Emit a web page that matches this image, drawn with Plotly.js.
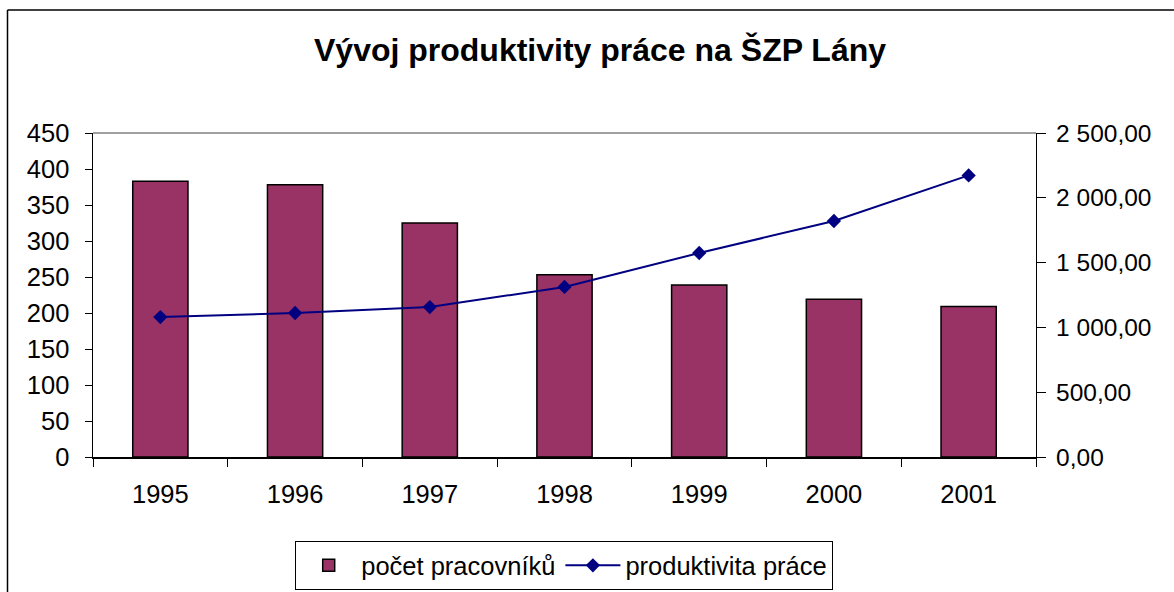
<!DOCTYPE html>
<html>
<head>
<meta charset="utf-8">
<script src="https://cdn.plot.ly/plotly-3.0.1.min.js"></script>
<style>html,body{margin:0;padding:0;background:#fff}#chart{width:1174px;height:592px}</style>
</head>
<body>
<div id="chart"></div>
<script>
const years = ['1995', '1996', '1997', '1998', '1999', '2000', '2001'];
const workers = [383, 378, 325, 253, 239, 219, 209];
const productivity = [1080, 1111, 1157, 1312, 1574, 1821, 2173];
const leftTicks = [0, 50, 100, 150, 200, 250, 300, 350, 400, 450];
const rightTicks = [0, 500, 1000, 1500, 2000, 2500];
const seriesNames = ['počet pracovníků', 'produktivita práce'];
const chartTitle = 'Vývoj produktivity práce na ŠZP Lány';

const FONT = '"Liberation Sans", Arial, sans-serif';
const boundaries = years.map((_, i) => i - 0.5).concat([years.length - 0.5]);

const traces = [
  {
    type: 'bar', x: years, y: workers, name: seriesNames[0],
    marker: {color: '#993366', line: {color: '#000000', width: 1.5}},
    xaxis: 'x', yaxis: 'y'
  },
  {
    type: 'scatter', mode: 'lines+markers', x: years, y: productivity, name: seriesNames[1],
    line: {color: '#000080', width: 2},
    marker: {symbol: 'diamond', size: 11, color: '#000080'},
    xaxis: 'x', yaxis: 'y2'
  }
];

const tickFont = {family: FONT, size: 25.5, color: '#000'};

const layout = {
  width: 1174, height: 592,
  margin: {l: 93, r: 138, t: 133, b: 135, pad: 0, autoexpand: false},
  paper_bgcolor: '#fff', plot_bgcolor: '#fff',
  separators: ', ',
  font: {family: FONT, color: '#000'},
  showlegend: true,
  hovermode: false,
  bargap: 0.59,
  title: {
    text: '<b>' + chartTitle + '</b>',
    font: {family: FONT, size: 32, color: '#000'},
    x: 600 / 1174, xref: 'container', xanchor: 'center',
    y: 1 - 50 / 592, yref: 'container', yanchor: 'middle'
  },
  xaxis: {
    type: 'category', range: [-0.5, years.length - 0.5],
    showline: true, linecolor: '#000', linewidth: 1.5,
    ticks: 'outside', tickson: 'boundaries', ticklen: 8, tickcolor: '#000', tickwidth: 1,
    tickfont: tickFont, ticklabelstandoff: 14,
    showgrid: false, zeroline: false, fixedrange: true
  },
  xaxis2: {
    overlaying: 'x', anchor: 'y', side: 'bottom',
    range: [-0.5, years.length - 0.5],
    tickmode: 'array', tickvals: boundaries,
    ticks: 'inside', ticklen: 7, tickcolor: '#000', tickwidth: 1,
    showticklabels: false, showline: false, showgrid: false, zeroline: false
  },
  yaxis: {
    range: [0, 450], tickmode: 'array', tickvals: leftTicks,
    showline: true, linecolor: '#000', linewidth: 1.5,
    ticks: 'outside', ticklen: 7, tickcolor: '#000', tickwidth: 1,
    tickfont: tickFont, ticklabelstandoff: 10,
    showgrid: false, zeroline: false, fixedrange: true
  },
  yaxis2: {
    overlaying: 'y', side: 'right', anchor: 'x',
    range: [0, 2500], tickmode: 'array', tickvals: rightTicks,
    tickformat: ',.2f',
    showline: true, linecolor: '#000', linewidth: 1.2,
    ticks: 'outside', ticklen: 9, tickcolor: '#000', tickwidth: 1,
    tickfont: {family: FONT, size: 24.5, color: '#000'}, ticklabelstandoff: 5,
    showgrid: false, zeroline: false, fixedrange: true
  },
  yaxis3: {
    overlaying: 'y', side: 'left', anchor: 'x',
    range: [0, 450], tickmode: 'array', tickvals: leftTicks,
    ticks: 'inside', ticklen: 7, tickcolor: '#000', tickwidth: 1,
    showticklabels: false, showline: false, showgrid: false, zeroline: false
  },
  yaxis4: {
    overlaying: 'y', side: 'right', anchor: 'x',
    range: [0, 2500], tickmode: 'array', tickvals: rightTicks,
    ticks: 'inside', ticklen: 7, tickcolor: '#000', tickwidth: 1,
    showticklabels: false, showline: false, showgrid: false, zeroline: false
  },
  legend: {
    orientation: 'h', x: 564 / 1174, xref: 'container', xanchor: 'center',
    y: 1 - 541 / 592, yref: 'container', yanchor: 'top',
    bordercolor: '#000', borderwidth: 1.2, bgcolor: '#fff',
    font: {family: FONT, size: 25.5, color: '#000'},
    itemwidth: 55, tracegroupgap: 0
  },
  shapes: [
    {type: 'line', xref: 'paper', yref: 'paper', x0: 0, x1: 1, y0: 1, y1: 1,
     line: {color: '#808080', width: 1.5}},
    {type: 'line', xref: 'paper', yref: 'paper', x0: (7.5 - 93) / 943, x1: (7.5 - 93) / 943,
     y0: (457 - 10) / 324, y1: -1, line: {color: '#000', width: 1.5}},
    {type: 'line', xref: 'paper', yref: 'paper', x0: (7.5 - 93) / 943, x1: 1.3,
     y0: (457 - 10) / 324, y1: (457 - 10) / 324, line: {color: '#000', width: 1.5}}
  ]
};

Plotly.newPlot('chart', traces, layout, {displayModeBar: false, staticPlot: true});
</script>
</body>
</html>
